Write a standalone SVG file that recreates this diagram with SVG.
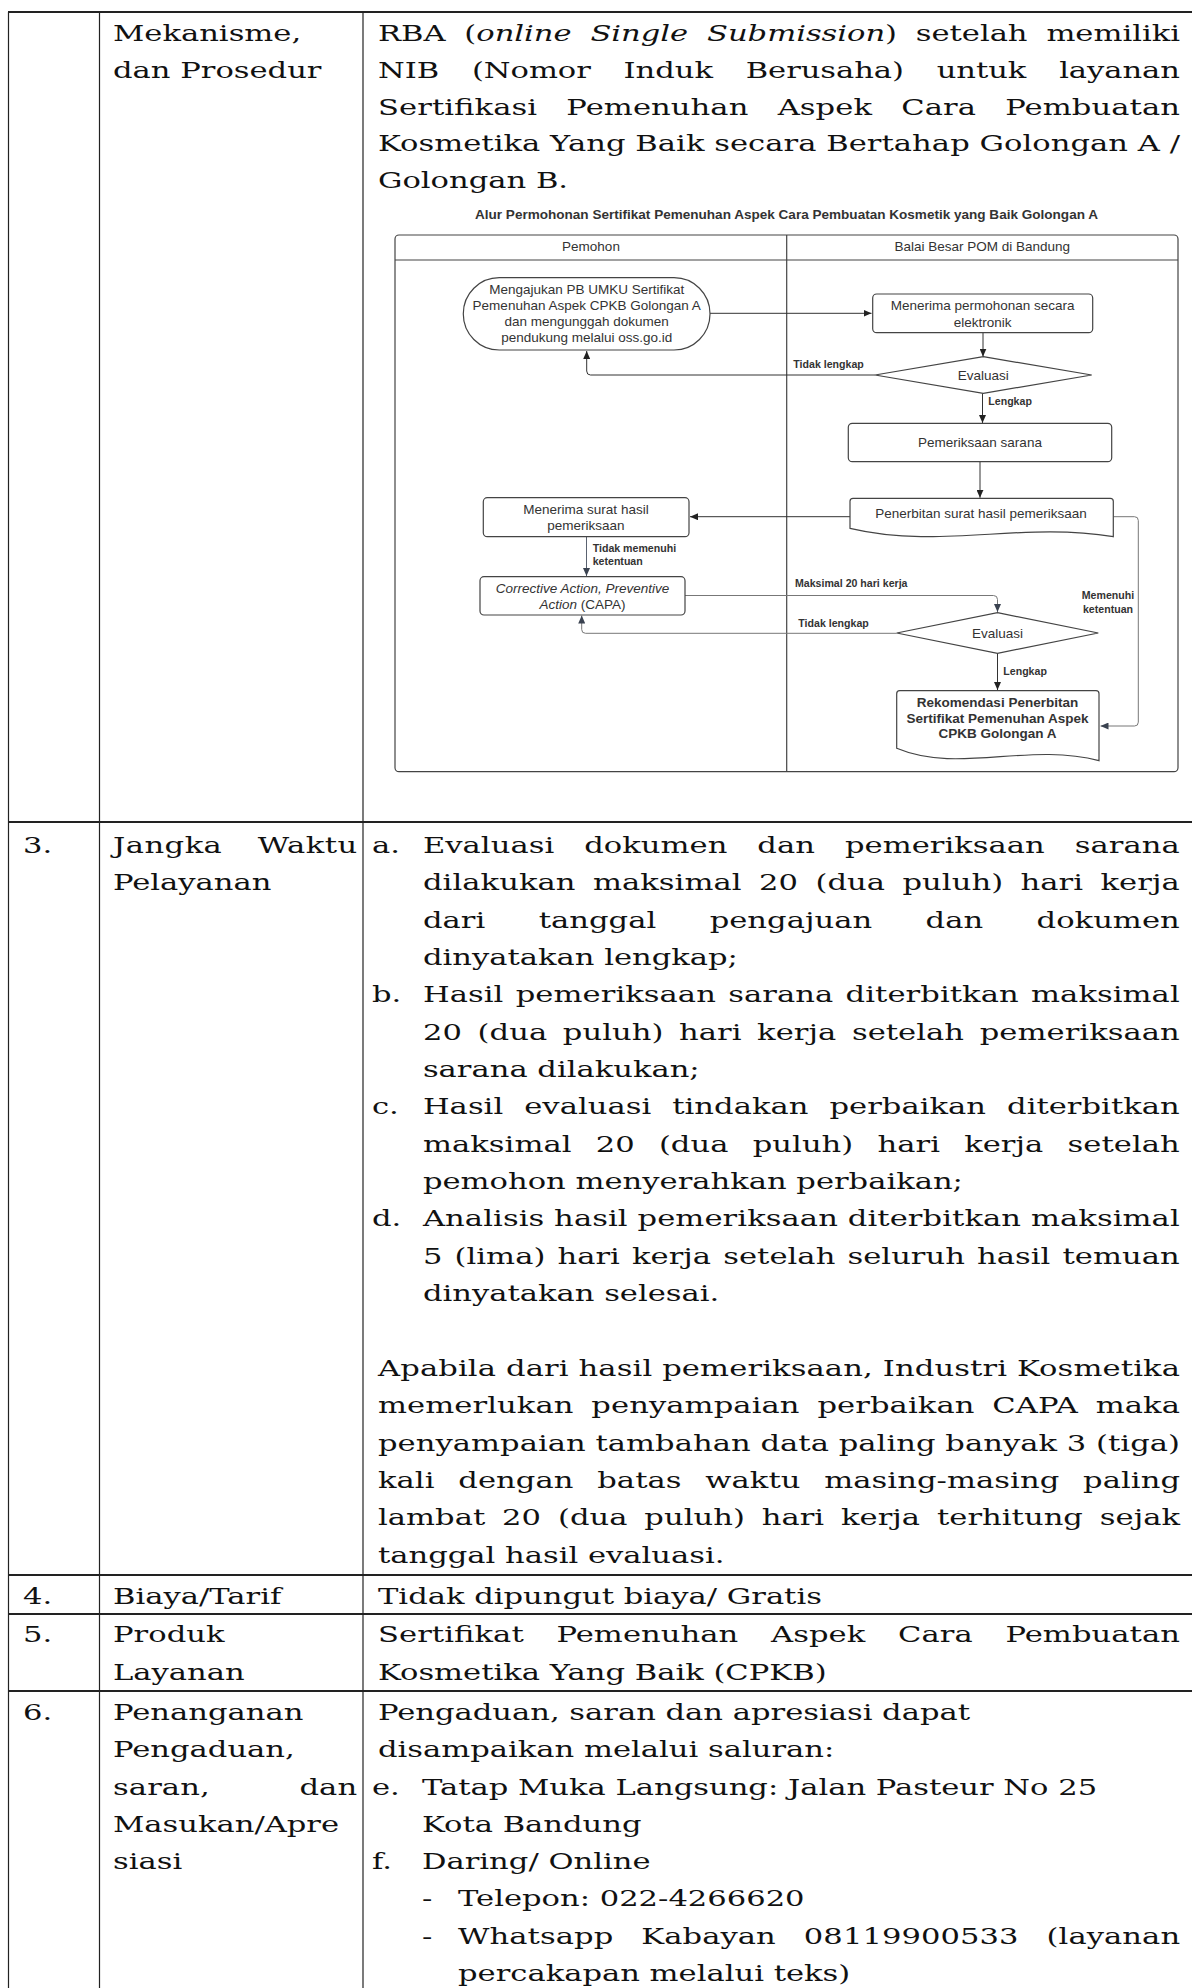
<svg xmlns="http://www.w3.org/2000/svg" width="1192" height="1988" viewBox="0 0 1192 1988">
<style>
.t{font-family:"DejaVu Serif","Liberation Serif",serif;font-size:23px;fill:#111}
.i{font-style:italic}
.fc{font-family:"Liberation Sans",Arial,sans-serif;fill:#333}
.n{font-size:13.5px}
.lb{font-size:10.6px;font-weight:bold}
.shape{fill:#fff;stroke:#444;stroke-width:1.2}
.grid{stroke:#222;fill:none}
.c{fill:none;stroke:#333;stroke-width:1}
.cg{fill:none;stroke:#777;stroke-width:1}
</style>
<defs>
<marker id="ah" markerWidth="8" markerHeight="7" refX="8" refY="3.5" orient="auto" markerUnits="userSpaceOnUse"><path d="M0,0 L8,3.5 L0,7 z" fill="#222"/></marker>
<marker id="ahg" markerWidth="8" markerHeight="7" refX="8" refY="3.5" orient="auto" markerUnits="userSpaceOnUse"><path d="M0,0 L8,3.5 L0,7 z" fill="#3a4250"/></marker>
</defs>
<rect width="1192" height="1988" fill="#fff"/>
<g id="table-grid" class="grid">
<line x1="8" y1="12" x2="1192" y2="12" stroke-width="2"/>
<line x1="8" y1="822" x2="1192" y2="822" stroke-width="2"/>
<line x1="8" y1="1575" x2="1192" y2="1575" stroke-width="2"/>
<line x1="8" y1="1614" x2="1192" y2="1614" stroke-width="2"/>
<line x1="8" y1="1691" x2="1192" y2="1691" stroke-width="2"/>
<line x1="8.5" y1="12" x2="8.5" y2="1988" stroke-width="1.2"/>
<line x1="99.5" y1="12" x2="99.5" y2="1988" stroke-width="1.2"/>
<line x1="363" y1="12" x2="363" y2="1988" stroke-width="1.2"/>
</g>
<g id="table-text" class="t" transform="scale(1.33,1)">
<text x="85" y="41.5">Mekanisme,</text>
<text x="85" y="78.1">dan Prosedur</text>
<text x="284.2" y="41.5" word-spacing="6.9" textLength="603" lengthAdjust="spacing">RBA (<tspan class="i">online Single Submission</tspan>) setelah memiliki</text>
<text x="284.2" y="78.1" word-spacing="17.4" textLength="603" lengthAdjust="spacing">NIB (Nomor Induk Berusaha) untuk layanan</text>
<text x="284.2" y="114.7" word-spacing="14.6" textLength="603" lengthAdjust="spacing">Sertifikasi Pemenuhan Aspek Cara Pembuatan</text>
<text x="284.2" y="151.3" textLength="603" lengthAdjust="spacing">Kosmetika Yang Baik secara Bertahap Golongan A /</text>
<text x="284.2" y="187.9">Golongan B.</text>

<text x="17.3" y="853">3.</text>
<text x="85" y="853" word-spacing="19" textLength="183.5" lengthAdjust="spacing">Jangka Waktu</text>
<text x="85" y="890.4">Pelayanan</text>
<text x="279.7" y="853">a.</text>
<text x="318" y="853" word-spacing="15.2" textLength="569" lengthAdjust="spacing">Evaluasi dokumen dan pemeriksaan sarana</text>
<text x="318" y="890.4" word-spacing="5.7" textLength="569" lengthAdjust="spacing">dilakukan maksimal 20 (dua puluh) hari kerja</text>
<text x="318" y="927.7" word-spacing="32.8" textLength="569" lengthAdjust="spacing">dari tanggal pengajuan dan dokumen</text>
<text x="318" y="965.1">dinyatakan lengkap;</text>
<text x="279.7" y="1002.4">b.</text>
<text x="318" y="1002.4" word-spacing="1.9" textLength="569" lengthAdjust="spacing">Hasil pemeriksaan sarana diterbitkan maksimal</text>
<text x="318" y="1039.8" word-spacing="4.4" textLength="569" lengthAdjust="spacing">20 (dua puluh) hari kerja setelah pemeriksaan</text>
<text x="318" y="1077.1">sarana dilakukan;</text>
<text x="279.7" y="1114.5">c.</text>
<text x="318" y="1114.5" word-spacing="8.5" textLength="569" lengthAdjust="spacing">Hasil evaluasi tindakan perbaikan diterbitkan</text>
<text x="318" y="1151.8" word-spacing="10.8" textLength="569" lengthAdjust="spacing">maksimal 20 (dua puluh) hari kerja setelah</text>
<text x="318" y="1189.2">pemohon menyerahkan perbaikan;</text>
<text x="279.7" y="1226.5">d.</text>
<text x="318" y="1226.5" textLength="569" lengthAdjust="spacing">Analisis hasil pemeriksaan diterbitkan maksimal</text>
<text x="318" y="1263.9" word-spacing="1.7" textLength="569" lengthAdjust="spacing">5 (lima) hari kerja setelah seluruh hasil temuan</text>
<text x="318" y="1301.2">dinyatakan selesai.</text>
<text x="284.2" y="1375.9" textLength="603" lengthAdjust="spacing">Apabila dari hasil pemeriksaan, Industri Kosmetika</text>
<text x="284.2" y="1413.3" word-spacing="6" textLength="603" lengthAdjust="spacing">memerlukan penyampaian perbaikan CAPA maka</text>
<text x="284.2" y="1450.6" textLength="603" lengthAdjust="spacing">penyampaian tambahan data paling banyak 3 (tiga)</text>
<text x="284.2" y="1488" word-spacing="10.5" textLength="603" lengthAdjust="spacing">kali dengan batas waktu masing-masing paling</text>
<text x="284.2" y="1525.3" word-spacing="5.3" textLength="603" lengthAdjust="spacing">lambat 20 (dua puluh) hari kerja terhitung sejak</text>
<text x="284.2" y="1562.6">tanggal hasil evaluasi.</text>

<text x="17.3" y="1604">4.</text>
<text x="85" y="1604">Biaya/Tarif</text>
<text x="284.2" y="1604">Tidak dipungut biaya/ Gratis</text>

<text x="17.3" y="1642">5.</text>
<text x="85" y="1642">Produk</text>
<text x="85" y="1680">Layanan</text>
<text x="284.2" y="1642" word-spacing="17.2" textLength="603" lengthAdjust="spacing">Sertifikat Pemenuhan Aspek Cara Pembuatan</text>
<text x="284.2" y="1680">Kosmetika Yang Baik (CPKB)</text>

<text x="17.3" y="1720">6.</text>
<text x="85" y="1720">Penanganan</text>
<text x="85" y="1757.3">Pengaduan,</text>
<text x="85" y="1794.6" word-spacing="60" textLength="183.5" lengthAdjust="spacing">saran, dan</text>
<text x="85" y="1831.9">Masukan/Apre</text>
<text x="85" y="1869.2">siasi</text>
<text x="284.2" y="1720">Pengaduan, saran dan apresiasi dapat</text>
<text x="284.2" y="1757.3">disampaikan melalui saluran:</text>
<text x="279.7" y="1794.6">e.</text>
<text x="317.3" y="1794.6">Tatap Muka Langsung: Jalan Pasteur No 25</text>
<text x="317.3" y="1831.9">Kota Bandung</text>
<text x="279.7" y="1869.2">f.</text>
<text x="317.3" y="1869.2">Daring/ Online</text>
<text x="317.3" y="1906.5">-</text>
<text x="344.4" y="1906.5">Telepon: 022-4266620</text>
<text x="317.3" y="1943.8">-</text>
<text x="344.4" y="1943.8" word-spacing="13.7" textLength="542.9" lengthAdjust="spacing">Whatsapp Kabayan 08119900533 (layanan</text>
<text x="344.4" y="1981.1">percakapan melalui teks)</text>
</g>

<text class="fc" x="786.5" y="219" font-size="13" font-weight="bold" text-anchor="middle" textLength="623" lengthAdjust="spacingAndGlyphs" fill="#111">Alur Permohonan Sertifikat Pemenuhan Aspek Cara Pembuatan Kosmetik yang Baik Golongan A</text>
<g id="swimlanes">
<rect x="395" y="235" width="783" height="536.7" rx="4" fill="#fff" stroke="#444" stroke-width="1.2"/>
<line x1="395" y1="260" x2="1178" y2="260" stroke="#444" stroke-width="1.2"/>
<line x1="786.7" y1="235" x2="786.7" y2="771.7" stroke="#444" stroke-width="1.2"/>
<text class="fc n" x="591" y="251" text-anchor="middle">Pemohon</text>
<text class="fc n" x="982.3" y="251" text-anchor="middle">Balai Besar POM di Bandung</text>
</g>

<g id="connectors">
<path class="c" d="M710,313.3 H871.5" marker-end="url(#ah)"/>
<path class="c" d="M983,332.7 V356.5" marker-end="url(#ah)"/>
<path class="c" d="M875,375 H590.5 Q586.7,375 586.7,371 V351" marker-end="url(#ah)"/>
<path class="c" d="M982.5,393.3 V423" marker-end="url(#ah)"/>
<path class="c" d="M980,461.7 V497.8" marker-end="url(#ah)"/>
<path class="c" d="M850,516.7 H690" marker-end="url(#ah)"/>
<path class="cg" d="M1113.3,516.7 H1134.5 Q1138.3,516.7 1138.3,520.5 V722.2 Q1138.3,726 1134.5,726 H1100.5" marker-end="url(#ahg)"/>
<path fill="none" stroke="#5a6270" stroke-width="1" d="M586.5,536.7 V576" marker-end="url(#ahg)"/>
<path class="cg" d="M685,595.5 H993.5 Q997.5,595.5 997.5,599.5 V612" marker-end="url(#ahg)"/>
<path class="cg" d="M896.7,633.3 H585.5 Q581.7,633.3 581.7,629.5 V615.5" marker-end="url(#ahg)"/>
<path class="c" d="M997.5,653.3 V690" marker-end="url(#ah)"/>
<text class="fc lb" x="793.3" y="368.3">Tidak lengkap</text>
<text class="fc lb" x="988.3" y="405">Lengkap</text>
<text class="fc lb" x="592.7" y="551.7">Tidak memenuhi</text>
<text class="fc lb" x="592.7" y="565">ketentuan</text>
<text class="fc lb" x="795" y="586.7">Maksimal 20 hari kerja</text>
<text class="fc lb" x="1108" y="599.3" text-anchor="middle">Memenuhi</text>
<text class="fc lb" x="1108" y="612.7" text-anchor="middle">ketentuan</text>
<text class="fc lb" x="798.3" y="626.7">Tidak lengkap</text>
<text class="fc lb" x="1003.3" y="675">Lengkap</text>
</g>

<g id="node-mengajukan">
<rect class="shape" x="463.3" y="277.7" width="246.7" height="72.3" rx="36" ry="36"/>
<text class="fc n" x="586.7" text-anchor="middle"><tspan x="586.7" y="294.3">Mengajukan PB UMKU Sertifikat</tspan><tspan x="586.7" y="310.3">Pemenuhan Aspek CPKB Golongan A</tspan><tspan x="586.7" y="326.3">dan mengunggah dokumen</tspan><tspan x="586.7" y="342.3">pendukung melalui oss.go.id</tspan></text>
</g>
<g id="node-menerima-permohonan">
<rect class="shape" x="872.7" y="294" width="220" height="38.7" rx="4"/>
<text class="fc n" text-anchor="middle"><tspan x="982.7" y="310">Menerima permohonan secara</tspan><tspan x="982.7" y="326.5">elektronik</tspan></text>
</g>
<g id="node-evaluasi-1">
<polygon class="shape" points="983.3,356.7 1091.7,375 983.3,393.3 875,375"/>
<text class="fc n" x="983.3" y="379.8" text-anchor="middle">Evaluasi</text>
</g>
<g id="node-pemeriksaan-sarana">
<rect class="shape" x="848.3" y="423.3" width="263.4" height="38.4" rx="4"/>
<text class="fc n" x="980" y="447" text-anchor="middle">Pemeriksaan sarana</text>
</g>
<g id="node-penerbitan">
<path class="shape" d="M850,528.3 V501.3 Q850,498.3 853,498.3 H1110.3 Q1113.3,498.3 1113.3,501.3 V536.7 C1021,521 942,550 850,528.3 Z"/>
<text class="fc n" x="981" y="517.5" text-anchor="middle">Penerbitan surat hasil pemeriksaan</text>
</g>
<g id="node-menerima-surat">
<rect class="shape" x="483.3" y="497.7" width="205.7" height="39" rx="4"/>
<text class="fc n" text-anchor="middle"><tspan x="586" y="513.5">Menerima surat hasil</tspan><tspan x="586" y="530">pemeriksaan</tspan></text>
</g>
<g id="node-capa">
<rect class="shape" x="480" y="576.7" width="205" height="38.3" rx="4"/>
<text class="fc n" text-anchor="middle"><tspan x="582.5" y="592.8" font-style="italic">Corrective Action, Preventive</tspan><tspan x="582.5" y="609"><tspan font-style="italic">Action</tspan> (CAPA)</tspan></text>
</g>
<g id="node-evaluasi-2">
<polygon class="shape" points="997.5,612.7 1098.3,633 997.5,653.3 896.7,633"/>
<text class="fc n" x="997.5" y="637.5" text-anchor="middle" fill="#666">Evaluasi</text>
</g>
<g id="node-rekomendasi">
<path class="shape" d="M896.7,748.3 V693.7 Q896.7,690.7 899.7,690.7 H1096 Q1099,690.7 1099,693.7 V760.7 C1028,742 958,774 896.7,748.3 Z"/>
<text class="fc n" font-weight="bold" text-anchor="middle"><tspan x="997.5" y="706.7">Rekomendasi Penerbitan</tspan><tspan x="997.5" y="722.5">Sertifikat Pemenuhan Aspek</tspan><tspan x="997.5" y="738.3">CPKB Golongan A</tspan></text>
</g>
</svg>
